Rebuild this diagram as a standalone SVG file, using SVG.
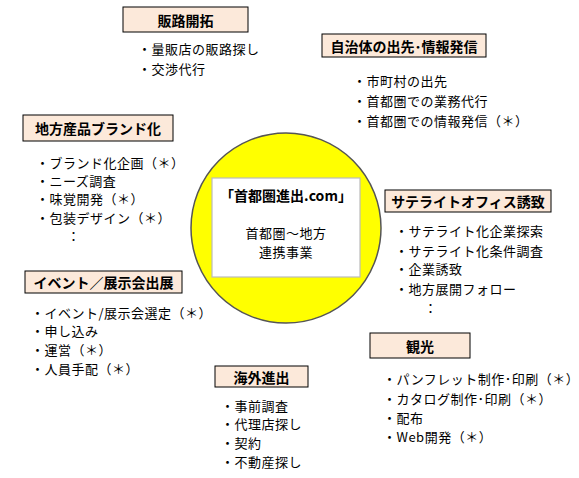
<svg xmlns="http://www.w3.org/2000/svg" width="579" height="478" viewBox="0 0 579 478">
<style>
text{font-family:"Noto Sans CJK JP","Noto Sans CJK SC",sans-serif;fill:#000}
.t{font-size:14px;font-weight:bold;text-anchor:middle;dominant-baseline:central}
.i{font-size:13px;letter-spacing:0.5px;dominant-baseline:central}
.box{fill:#FCE9DA;stroke:#000;stroke-width:1}
</style>
<rect width="579" height="478" fill="#fff"/>
<g id="center">
<circle cx="286" cy="228" r="95" fill="#FFFF00" stroke="#555" stroke-width="1.5"/>
<rect x="212" y="178" width="148" height="99" fill="#fff" stroke="#bbb" stroke-width="1.2"/>
<text class="t" x="286" y="195" font-size="14.5">「首都圏進出.com」</text>
<text class="i" x="286" y="232" text-anchor="middle" font-size="14">首都圏～地方</text>
<text class="i" x="286" y="251" text-anchor="middle" font-size="14">連携事業</text>
</g>
<g id="hanro">
<rect class="box" x="123" y="7" width="125" height="25"/>
<text class="t" x="185.5" y="19.5">販路開拓</text>
<text class="i" x="138" y="48">・量販店の販路探し</text>
<text class="i" x="138" y="68">・交渉代行</text>
</g>
<g id="jichitai">
<rect class="box" x="322" y="34" width="164" height="23"/>
<text class="t" x="404" y="45.5">自治体の出先･情報発信</text>
<text class="i" x="353" y="80">・市町村の出先</text>
<text class="i" x="353" y="100">・首都圏での業務代行</text>
<text class="i" x="353" y="120">・首都圏での情報発信（＊）</text>
</g>
<g id="brand">
<rect class="box" x="23" y="115" width="150" height="26"/>
<text class="t" x="98" y="128">地方産品ブランド化</text>
<text class="i" x="36" y="162">・ブランド化企画（＊）</text>
<text class="i" x="36" y="180">・ニーズ調査</text>
<text class="i" x="36" y="198">・味覚開発（＊）</text>
<text class="i" x="36" y="217">・包装デザイン（＊）</text>
<text class="i" x="67" y="235">：</text>
</g>
<g id="satellite">
<rect class="box" x="385" y="190" width="166" height="22"/>
<text class="t" x="468" y="201">サテライトオフィス誘致</text>
<text class="i" x="395" y="230">・サテライト化企業探索</text>
<text class="i" x="395" y="250">・サテライト化条件調査</text>
<text class="i" x="395" y="268">・企業誘致</text>
<text class="i" x="395" y="288">・地方展開フォロー</text>
<text class="i" x="424" y="307">：</text>
</g>
<g id="event">
<rect class="box" x="25" y="271" width="157" height="22"/>
<text class="t" x="103.5" y="282">イベント／展示会出展</text>
<text class="i" x="31" y="312">・イベント/展示会選定（＊）</text>
<text class="i" x="31" y="330">・申し込み</text>
<text class="i" x="31" y="349">・運営（＊）</text>
<text class="i" x="31" y="368">・人員手配（＊）</text>
</g>
<g id="kanko">
<rect class="box" x="370" y="333" width="100" height="25"/>
<text class="t" x="420" y="345.5">観光</text>
<text class="i" x="383" y="378">・パンフレット制作･印刷（＊）</text>
<text class="i" x="383" y="398">・カタログ制作･印刷（＊）</text>
<text class="i" x="383" y="417">・配布</text>
<text class="i" x="383" y="436">・Web開発（＊）</text>
</g>
<g id="kaigai">
<rect class="box" x="215" y="366" width="93" height="21"/>
<text class="t" x="261.5" y="376.5">海外進出</text>
<text class="i" x="221" y="405">・事前調査</text>
<text class="i" x="221" y="423">・代理店探し</text>
<text class="i" x="221" y="442">・契約</text>
<text class="i" x="221" y="461">・不動産探し</text>
</g>
<g id="connectors"></g>
</svg>
